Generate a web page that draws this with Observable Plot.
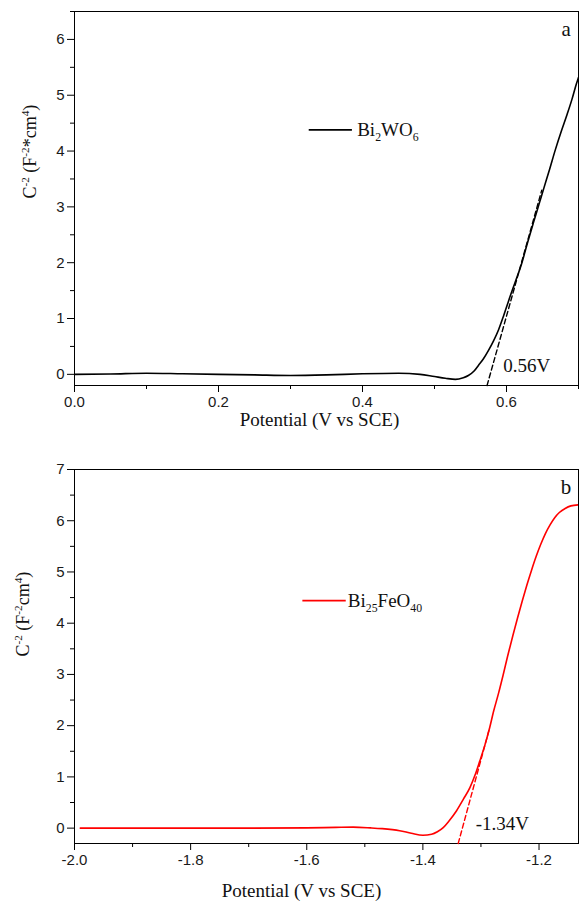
<!DOCTYPE html>
<html><head><meta charset="utf-8">
<script src="https://cdn.jsdelivr.net/npm/d3@7"></script>
<script src="https://cdn.jsdelivr.net/npm/@observablehq/plot@0.6"></script>
<style>body{margin:0;background:#fff;} #chart svg{display:block;background:#fff;}</style>
</head><body><div id="chart"></div>
<script>
// Panel a: Bi2WO6 Mott-Schottky
const potentialA = [0.000,0.05,0.10,0.15,0.20,0.25,0.30,0.35,0.40,0.45,0.48,0.50,0.515,0.529,0.540,0.547,0.555,0.561,0.568,0.575,0.582,0.589,0.596,0.603,0.612,0.621,0.629,0.637,0.645,0.652,0.660,0.668,0.676,0.684,0.691,0.697,0.700];
const c2A        = [0.00,0.005,0.02,0.01,0.00,-0.01,-0.02,-0.01,0.01,0.02,0.00,-0.04,-0.07,-0.09,-0.06,-0.02,0.06,0.16,0.28,0.43,0.60,0.80,1.05,1.32,1.65,1.98,2.35,2.70,3.04,3.34,3.68,4.03,4.35,4.65,4.93,5.20,5.32];
const tangentAx = [0.573, 0.649];
const tangentAy = [-0.2, 3.3];
// Panel b: Bi25FeO40
const potentialB = [-1.99,-1.90,-1.80,-1.70,-1.60,-1.55,-1.52,-1.49,-1.47,-1.44,-1.42,-1.40,-1.385,-1.375,-1.365,-1.355,-1.342,-1.33,-1.319,-1.31,-1.302,-1.293,-1.285,-1.278,-1.270,-1.262,-1.254,-1.245,-1.237,-1.229,-1.221,-1.213,-1.205,-1.197,-1.189,-1.181,-1.173,-1.165,-1.155,-1.145,-1.133];
const c2B        = [0.00,0.00,0.00,0.00,0.005,0.015,0.02,0.005,-0.01,-0.05,-0.10,-0.14,-0.12,-0.07,0.01,0.14,0.34,0.57,0.79,1.04,1.31,1.63,1.96,2.29,2.62,2.98,3.36,3.76,4.10,4.43,4.74,5.03,5.30,5.54,5.75,5.92,6.06,6.16,6.24,6.29,6.31];
const tangentBx = [-1.3392, -1.2864];
const tangentBy = [-0.3, 1.9];

const xTicksA = [0.0,0.2,0.4,0.6], xMinorA = [0.1,0.3,0.5,0.7];
const yTicksA = [0,1,2,3,4,5,6], yMinorA = [0.5,1.5,2.5,3.5,4.5,5.5,6.5];
const xTicksB = [-2.0,-1.8,-1.6,-1.4,-1.2], xMinorB = [-1.9,-1.7,-1.5,-1.3];
const yTicksB = [0,1,2,3,4,5,6,7], yMinorB = [0.5,1.5,2.5,3.5,4.5,5.5,6.5];

const xTitle = "Potential (V vs SCE)";
const yTitleA = "C^{-2} (F^{-2}*cm^{4})";
const yTitleB = "C^{-2} (F^{-2}cm^{4})";
const nameA = "Bi_{2}WO_{6}", nameB = "Bi_{25}FeO_{40}";
const onsetA = "0.56V", onsetB = "-1.34V";

const zip = (xs, ys) => xs.map((x, i) => ({x, y: ys[i]}));
const SERIF = "'Liberation Serif','Times New Roman',serif";

function richify(svg) {
  svg.querySelectorAll("text").forEach(el => {
    const s = el.textContent;
    if (!/[\^_]\{/.test(s)) return;
    const fs = parseFloat(el.closest("[font-size]")?.getAttribute("font-size")) || 16;
    while (el.firstChild) el.removeChild(el.firstChild);
    const parts = s.split(/(\^\{[^}]*\}|_\{[^}]*\})/).filter(p => p !== "");
    let off = 0;
    for (const p of parts) {
      const t = document.createElementNS("http://www.w3.org/2000/svg", "tspan");
      let target = 0, txt = p, small = false;
      if (p.startsWith("^{")) { target = -0.4 * fs; txt = p.slice(2, -1); small = true; }
      else if (p.startsWith("_{")) { target = 0.28 * fs; txt = p.slice(2, -1); small = true; }
      if (small) t.setAttribute("font-size", (0.62 * fs).toFixed(1));
      if (target - off !== 0) t.setAttribute("dy", (target - off).toFixed(2));
      off = target;
      t.textContent = txt;
      el.appendChild(t);
    }
  });
}

function panel(o) {
  return Plot.plot({
    width: 579, height: o.height,
    marginLeft: 74, marginRight: 1, marginTop: o.mt, marginBottom: o.mb,
    style: {fontFamily: "'Liberation Sans', Arial, sans-serif", fontSize: "15px", color: "#1a1a1a", background: "#fff"},
    x: {domain: o.xd, axis: null},
    y: {domain: o.yd, axis: null},
    marks: [
      Plot.axisX({ticks: o.xt, tickSize: 7, tickPadding: 4, tickFormat: d => d.toFixed(1), label: null, stroke: "#000"}),
      Plot.axisX({ticks: o.xm, tickSize: 4, tickFormat: () => "", label: null, stroke: "#000"}),
      Plot.axisY({ticks: o.yt, tickSize: 7, tickPadding: 3, tickFormat: d => String(d), label: null, stroke: "#000"}),
      Plot.axisY({ticks: o.ym, tickSize: 4, tickFormat: () => "", label: null, stroke: "#000"}),
      Plot.frame({stroke: "#000", strokeWidth: 1}),
      Plot.line(o.tan, {x: "x", y: "y", stroke: o.color, strokeWidth: 1.4, strokeDasharray: "5,3"}),
      Plot.line(o.data, {x: "x", y: "y", stroke: o.color, strokeWidth: 1.6, curve: "monotone-x", clip: true}),
      Plot.ruleY([o.leg.y], {x1: o.leg.x1, x2: o.leg.x2, stroke: o.color, strokeWidth: 1.6}),
      Plot.text([o.name], {x: o.leg.tx, y: o.leg.y, text: d => d, textAnchor: "start", fontFamily: SERIF, fontSize: 19, fill: "#111"}),
      Plot.text([o.letter], {x: o.lp[0], y: o.lp[1], text: d => d, fontFamily: SERIF, fontSize: 21, fill: "#111"}),
      Plot.text([o.onset], {x: o.op[0], y: o.op[1], text: d => d, textAnchor: "start", fontFamily: SERIF, fontSize: 19, fill: "#111"}),
      Plot.text([xTitle], {frameAnchor: "bottom", dy: o.xtdy, dx: o.xtdx, text: d => d, fontFamily: SERIF, fontSize: 19, fill: "#111"}),
      Plot.text([o.ytitle], {frameAnchor: "left", dx: o.ytdx, rotate: -90, text: d => d, fontFamily: SERIF, fontSize: 18, fill: "#111"})
    ]
  });
}

const a = panel({
  height: 440, mt: 11, mb: 55, xd: [0, 0.7], yd: [-0.2, 6.5],
  xt: xTicksA, xm: xMinorA, yt: yTicksA, ym: yMinorA,
  data: zip(potentialA, c2A), tan: zip(tangentAx, tangentAy), color: "#000",
  leg: {x1: 0.326, x2: 0.386, tx: 0.3926, y: 4.38}, name: nameA,
  letter: "a", lp: [0.683, 6.18], onset: onsetA, op: [0.5956, 0.15],
  xtdy: 40, xtdx: -7, ytitle: yTitleA, ytdx: -44
});
const b = panel({
  height: 462, mt: 29, mb: 59, xd: [-2.0, -1.132], yd: [-0.3, 7],
  xt: xTicksB, xm: xMinorB, yt: yTicksB, ym: yMinorB,
  data: zip(potentialB, c2B), tan: zip(tangentBx, tangentBy), color: "#ff0000",
  leg: {x1: -1.6067, x2: -1.532, tx: -1.5293, y: 4.44}, name: nameB,
  letter: "b", lp: [-1.1537, 6.65], onset: onsetB, op: [-1.309, 0.08],
  xtdy: 53, xtdx: -25, ytitle: yTitleB, ytdx: -51
});
const host = document.getElementById("chart");
host.appendChild(a); host.appendChild(b);
richify(a); richify(b);
</script>
</body></html>
